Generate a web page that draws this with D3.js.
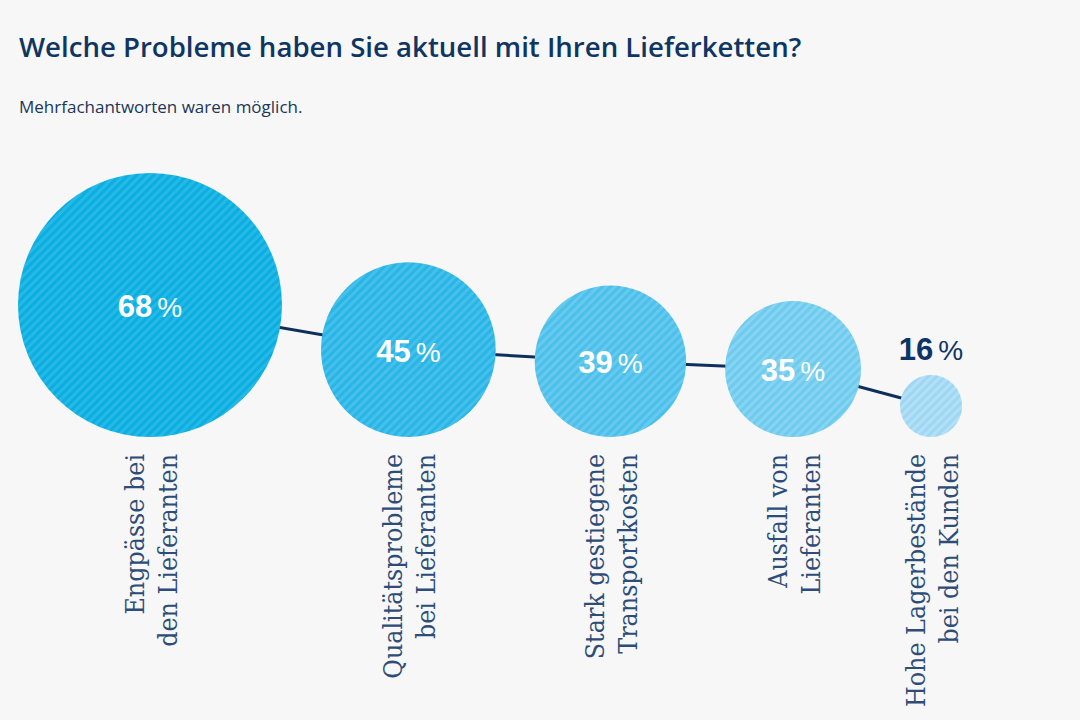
<!DOCTYPE html>
<html>
<head>
<meta charset="utf-8">
<script src="https://cdn.jsdelivr.net/npm/d3@7"></script>
<style>
  html, body { margin: 0; padding: 0; background: #f7f7f7; }
  svg { display: block; }
  .title { font: 600 27.6px "Open Sans", sans-serif; fill: #0f3563; }
  .subtitle { font: 400 17px "Open Sans", sans-serif; fill: #1b3658; }
  .pct-num { font: 700 31px "Liberation Sans", Arial, sans-serif; }
  .pct-sign { font: 400 28px "Liberation Sans", Arial, sans-serif; }
  .cat { font: 400 26.5px "DejaVu Serif", serif; font-stretch: condensed; fill: #2d4d78; }
</style>
</head>
<body>
<div id="chart"></div>
<script>
// data
var categories = [
  ["Engpässe bei", "den Lieferanten"],
  ["Qualitätsprobleme", "bei Lieferanten"],
  ["Stark gestiegene", "Transportkosten"],
  ["Ausfall von", "Lieferanten"],
  ["Hohe Lagerbestände", "bei den Kunden"]
];
var values = [68, 45, 39, 35, 16];

// colours per bubble: base and stripe
var baseColors = ["#0aafe0", "#29b5e5", "#4cc0ea", "#6ecbee", "#9dd7f3"];
var stripeColors = ["#26b8e6", "#45c0ea", "#66c9ee", "#86d4f1", "#b3e0f6"];

var width = 1080, height = 720;

var svg = d3.select("#chart").append("svg")
  .attr("width", width)
  .attr("height", height);

svg.append("rect").attr("width", width).attr("height", height).attr("fill", "#f7f7f7");

svg.append("text").attr("class", "title").attr("x", 19).attr("y", 57)
  .text("Welche Probleme haben Sie aktuell mit Ihren Lieferketten?");
svg.append("text").attr("class", "subtitle").attr("x", 19).attr("y", 113)
  .text("Mehrfachantworten waren möglich.");

// radius grows linearly with the share
var r = d3.scaleLinear().domain([0, 68]).range([0, 132]);

var left = 18, gap = 39, baseY = 437;
var nodes = [];
var cursor = left;
values.forEach(function(v, i) {
  var rad = r(v);
  nodes.push({value: v, label: categories[i], r: rad, cx: cursor + rad, cy: baseY - rad, i: i});
  cursor += rad * 2 + gap;
});

// stripe patterns
var defs = svg.append("defs");
nodes.forEach(function(d) {
  var p = defs.append("pattern")
    .attr("id", "stripe" + d.i)
    .attr("patternUnits", "userSpaceOnUse")
    .attr("width", 6).attr("height", 6)
    .attr("patternTransform", "rotate(45)");
  p.append("rect").attr("width", 6).attr("height", 6).attr("fill", baseColors[d.i]);
  p.append("rect").attr("width", 3).attr("height", 6).attr("fill", stripeColors[d.i]);
});

// connecting line
svg.append("path")
  .datum(nodes)
  .attr("fill", "none")
  .attr("stroke", "#0d2f5c")
  .attr("stroke-width", 3)
  .attr("d", d3.line().x(function(d) { return d.cx; }).y(function(d) { return d.cy; }));

svg.selectAll(".bubble")
  .data(nodes)
  .enter().append("circle")
  .attr("class", "bubble")
  .attr("cx", function(d) { return d.cx; })
  .attr("cy", function(d) { return d.cy; })
  .attr("r", function(d) { return d.r; })
  .attr("fill", function(d) { return "url(#stripe" + d.i + ")"; });

// percentage labels
var pct = svg.selectAll(".pct")
  .data(nodes)
  .enter().append("text")
  .attr("class", "pct")
  .attr("text-anchor", "middle")
  .attr("x", function(d) { return d.cx; })
  .attr("y", function(d) { return d.r < 40 ? d.cy - d.r - 15 : d.cy + 12; })
  .attr("fill", function(d) { return d.r < 40 ? "#0d3466" : "#ffffff"; });
pct.append("tspan").attr("class", "pct-num").text(function(d) { return d.value; });
pct.append("tspan").attr("class", "pct-sign").attr("dx", 5).text("%");

// rotated category labels
var cat = svg.selectAll(".catg")
  .data(nodes)
  .enter().append("g")
  .attr("class", "catg")
  .attr("transform", function(d) { return "translate(" + d.cx + ",454) rotate(-90)"; });
cat.append("text").attr("class", "cat").attr("text-anchor", "end")
  .attr("y", -6.5).text(function(d) { return d.label[0]; });
cat.append("text").attr("class", "cat").attr("text-anchor", "end")
  .attr("y", 26.5).text(function(d) { return d.label[1]; });
</script>
</body>
</html>
